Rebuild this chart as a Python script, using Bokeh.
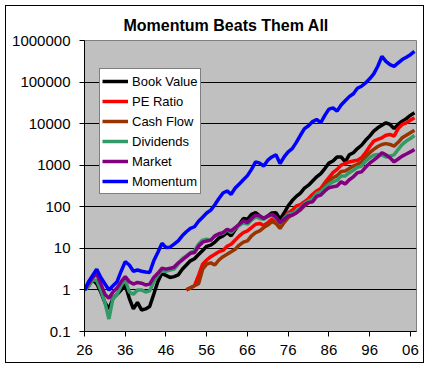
from bokeh.plotting import figure
from bokeh.models import (Range1d, FixedTicker, CustomJSTickFormatter, Legend,
                          LegendItem, ColumnDataSource, Title)
from bokeh.embed import file_html
from bokeh.resources import INLINE

# ---------------- data ----------------
years_all = list(range(1926, 2008))
years_post51 = list(range(1951, 2008))

book_value = [1.0, 1.26, 1.78, 1.41, 0.89, 0.50, 0.35, 0.63, 0.79, 1.0,
              1.32, 0.63, 0.35, 0.50, 0.33, 0.35, 0.40, 0.79, 1.58, 2.51,
              2.24, 2.0, 2.09, 2.29, 3.16, 3.98, 5.01, 5.62, 7.08, 8.91,
              11.2, 12.0, 14.1, 17.8, 20.0, 24.0, 20.0, 28.2, 38.0, 52.5,
              50.1, 66.1, 72.4, 60.3, 52.5, 60.3, 70.8, 72.4, 50.1, 70.8,
              105, 141, 178, 214, 282, 331, 417, 525, 631, 832,
              1120, 1260, 1580, 1580, 1200, 1780, 2000, 2510, 3020, 3980,
              5010, 6610, 7940, 9120, 10500, 9550, 7590, 9550, 11500, 13200,
              15800, 18200]

pe_ratio = [1.0, 1.12, 1.26, 2.24, 4.17, 5.25, 6.31, 7.24, 8.32, 8.91,
            11.2, 12.6, 15.8, 20.0, 24.0, 26.3, 31.6, 38.0, 39.8, 35.5,
            41.7, 50.1, 47.9, 38.0, 52.5, 70.8, 83.2, 105, 112, 132,
            158, 200, 240, 275, 380, 501, 661, 794, 1000, 1100,
            1200, 1260, 1320, 1510, 2000, 2820, 3800, 4170, 4570, 5250,
            5500, 5010, 7590, 9550, 10500, 12000, 13800]

cash_flow = [1.0, 1.12, 1.26, 1.41, 3.16, 4.17, 4.47, 3.98, 5.25, 6.31,
             7.24, 8.32, 9.55, 12.0, 14.1, 15.1, 20.0, 24.0, 26.3, 31.6,
             36.3, 43.7, 39.8, 30.2, 41.7, 55.0, 63.1, 72.4, 83.2, 105,
             126, 151, 200, 240, 316, 417, 501, 562, 708, 724,
             832, 955, 1050, 1200, 1580, 2000, 2400, 2820, 3160, 3310,
             3160, 2880, 3550, 4570, 5250, 6030, 6920]

dividends = [1.0, 1.20, 1.78, 1.66, 1.0, 0.50, 0.20, 0.63, 0.79, 1.26,
             1.78, 0.89, 0.79, 1.0, 1.0, 0.89, 0.95, 1.58, 2.24, 3.02,
             2.82, 3.02, 3.16, 4.17, 5.62, 6.61, 7.94, 8.71, 12.6, 15.8,
             16.6, 15.8, 20.0, 21.9, 22.9, 28.2, 24.0, 30.2, 35.5, 41.7,
             38.0, 47.9, 57.5, 52.5, 50.1, 57.5, 63.1, 52.5, 39.8, 52.5,
             66.1, 69.2, 79.4, 95.5, 120, 138, 158, 209, 229, 282,
             347, 398, 437, 550, 550, 661, 759, 891, 955, 1260,
             1510, 1740, 1820, 1740, 1580, 1660, 1780, 2400, 3160, 3800,
             4370, 5250]

market = [1.0, 1.41, 2.0, 2.40, 1.41, 0.79, 0.63, 0.89, 1.12, 1.58,
          2.09, 1.58, 1.38, 1.51, 1.45, 1.32, 1.38, 2.0, 2.51, 3.31,
          3.16, 3.31, 3.55, 4.47, 5.25, 6.31, 7.59, 7.94, 11.2, 14.1,
          15.1, 15.8, 20.0, 22.4, 24.0, 28.8, 26.3, 31.6, 38.0, 45.7,
          41.7, 52.5, 63.1, 60.3, 52.5, 60.3, 66.1, 56.2, 41.7, 50.1,
          60.3, 63.1, 70.8, 87.1, 112, 126, 132, 178, 191, 240,
          288, 302, 316, 398, 355, 447, 525, 661, 692, 891,
          1120, 1320, 1580, 2000, 1780, 1510, 1200, 1410, 1660, 1860,
          2090, 2400]

momentum = [1.0, 1.58, 2.24, 3.16, 2.0, 1.41, 1.0, 1.26, 1.58, 2.82,
            4.79, 3.98, 2.82, 3.02, 2.82, 2.69, 2.63, 5.01, 7.94, 13.2,
            10.5, 10.7, 12.6, 15.1, 20.0, 25.1, 30.2, 33.1, 44.7, 56.2,
            70.8, 83.2, 112, 158, 214, 240, 200, 282, 355, 447,
            562, 794, 1200, 1120, 955, 1320, 1580, 1780, 1100, 1580,
            2090, 2510, 3550, 5250, 7590, 8910, 11200, 12600, 10500, 15800,
            22400, 24000, 20000, 28200, 35500, 44700, 52500, 70800, 79400, 95500,
            120000, 158000, 240000, 417000, 316000, 263000, 240000, 288000, 347000, 398000,
            457000, 550000]

series_names = ["Book Value", "PE Ratio", "Cash Flow", "Dividends", "Market", "Momentum"]
series_colors = ["#000000", "#FF0000", "#993300", "#339966", "#800080", "#0000FF"]
series_x = [years_all, years_post51, years_post51, years_all, years_all, years_all]
series_y = [book_value, pe_ratio, cash_flow, dividends, market, momentum]

x_tick_values = [1926, 1936, 1946, 1956, 1966, 1976, 1986, 1996, 2006]
x_tick_labels = ["26", "36", "46", "56", "66", "76", "86", "96", "06"]
y_tick_values = [0.1, 1, 10, 100, 1000, 10000, 100000, 1000000]
y_tick_labels = ["0.1", "1", "10", "100", "1000", "10000", "100000", "1000000"]

title_text = "Momentum Beats Them All"

FONT = "Liberation Sans"
W, H = 419, 358

# ---------------- figure ----------------
title = Title(text=title_text, text_font=FONT, text_font_size="16px",
              text_font_style="bold", align="left", offset=39, standoff=14,
              text_color="black")

p = figure(width=W, height=H, y_axis_type="log", title=title,
           x_range=Range1d(1926, 2007.5), y_range=Range1d(0.1, 1000000),
           output_backend="svg", toolbar_location=None,
           min_border_left=78, min_border_right=9,
           min_border_top=34, min_border_bottom=33)
p.styles = {"border": "1px solid black", "margin-left": "5px", "margin-top": "5px"}

p.background_fill_color = "#C0C0C0"
p.border_fill_color = "white"
p.outline_line_color = "#808080"
p.outline_line_width = 1

renderers = []
for name, color, xs, ys in zip(series_names, series_colors, series_x, series_y):
    src = ColumnDataSource(dict(x=xs, y=ys))
    r = p.line("x", "y", source=src, line_color=color, line_width=3.5)
    renderers.append((name, r))

# axes
for ax in (p.xaxis[0], p.yaxis[0]):
    ax.axis_line_color = "black"
    ax.major_tick_line_color = "black"
    ax.major_tick_out = 5
    ax.major_tick_in = 0
    ax.minor_tick_line_color = None
    ax.major_label_text_font = FONT
    ax.major_label_text_font_size = "15px"
    ax.major_label_text_color = "black"

p.xaxis.ticker = FixedTicker(ticks=x_tick_values)
p.xaxis.formatter = CustomJSTickFormatter(
    args=dict(vals=x_tick_values, labs=x_tick_labels),
    code="const i = vals.findIndex(v => Math.abs(v - tick) < 1e-6); return i >= 0 ? labs[i] : '';")
p.xaxis.major_label_standoff = 8

p.yaxis.ticker = FixedTicker(ticks=y_tick_values)
p.yaxis.formatter = CustomJSTickFormatter(
    args=dict(vals=y_tick_values, labs=y_tick_labels),
    code="const i = vals.findIndex(v => Math.abs(Math.log10(v) - Math.log10(tick)) < 1e-6); return i >= 0 ? labs[i] : '';")
p.yaxis.major_label_standoff = 9

p.xgrid.visible = False
p.ygrid.ticker = FixedTicker(ticks=y_tick_values[1:-1])
p.ygrid.grid_line_color = "black"
p.ygrid.grid_line_width = 1

legend = Legend(items=[LegendItem(label=n, renderers=[r]) for n, r in renderers],
                location=(15, 137))
legend.label_text_font = FONT
legend.label_text_font_size = "13px"
legend.label_text_color = "black"
legend.label_standoff = 4
legend.glyph_width = 26
legend.glyph_height = 20
legend.label_height = 20
legend.padding = 2
legend.spacing = 0
legend.margin = 0
legend.border_line_color = "black"
legend.border_line_width = 1
legend.background_fill_color = "white"
legend.background_fill_alpha = 1.0
p.add_layout(legend, "center")

open("out.html", "w").write(file_html(p, INLINE))
